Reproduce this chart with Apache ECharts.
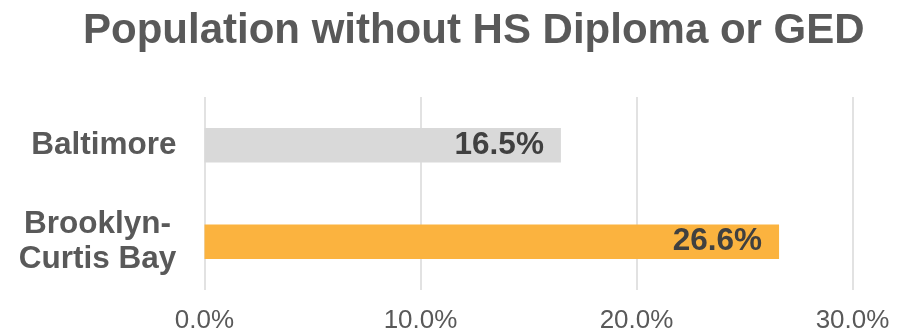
<!DOCTYPE html>
<html>
<head>
<meta charset="utf-8">
<script src="https://cdn.jsdelivr.net/npm/echarts@6/dist/echarts.min.js"></script>
<style>
  html, body { margin: 0; padding: 0; background: #ffffff; }
  #chart { width: 902px; height: 334px; }
</style>
</head>
<body>
<div id="chart"></div>
<script>
// Share of residents aged 25+ without a high school diploma or GED
const categories = ['Brooklyn-Curtis Bay', 'Baltimore'];
const values = [26.6, 16.5];
const barColors = ['#fbb33f', '#d9d9d9'];
const xTicks = [0, 10, 20, 30];

const FONT = '"Liberation Sans", Arial, sans-serif';

const chart = echarts.init(document.getElementById('chart'), null, { renderer: 'canvas' });

chart.setOption({
  backgroundColor: '#ffffff',
  animation: false,
  title: {
    text: 'Population without HS Diploma or GED',
    left: 78,
    top: 5,
    textStyle: {
      fontFamily: FONT,
      fontSize: 42,
      fontWeight: 'bold',
      color: '#595959'
    }
  },
  grid: {
    left: 204.5,
    right: 49.5,
    top: 97,
    bottom: 43,
    containLabel: false
  },
  xAxis: {
    type: 'value',
    min: xTicks[0],
    max: xTicks[xTicks.length - 1],
    interval: 10,
    axisLine: { show: false },
    axisTick: { show: false },
    splitLine: { show: true, lineStyle: { color: '#d9d9d9', width: 1.5 } },
    axisLabel: {
      margin: 18,
      fontFamily: FONT,
      fontSize: 26,
      color: '#595959',
      formatter: v => v.toFixed(1) + '%'
    }
  },
  yAxis: {
    type: 'category',
    data: categories,
    axisLine: { show: false },
    axisTick: { show: false },
    axisLabel: {
      margin: 28,
      fontFamily: FONT,
      fontSize: 31.5,
      fontWeight: 'bold',
      color: '#595959',
      formatter: v => {
        const i = v.indexOf('-');
        if (i < 0) return v;
        return '{c|' + v.slice(0, i + 1) + '}\n{c|' + v.slice(i + 1) + '}';
      },
      rich: {
        c: {
          width: 158,
          align: 'center',
          lineHeight: 35,
          fontFamily: FONT,
          fontSize: 31.5,
          fontWeight: 'bold',
          color: '#595959'
        }
      }
    }
  },
  series: [{
    type: 'bar',
    barWidth: 34.5,
    data: values.map((v, i) => ({ value: v, itemStyle: { color: barColors[i] } })),
    label: {
      show: true,
      position: 'insideRight',
      distance: 17,
      fontFamily: FONT,
      fontSize: 31.5,
      fontWeight: 'bold',
      color: '#404040',
      formatter: p => p.value.toFixed(1) + '%'
    }
  }]
});
</script>
</body>
</html>
